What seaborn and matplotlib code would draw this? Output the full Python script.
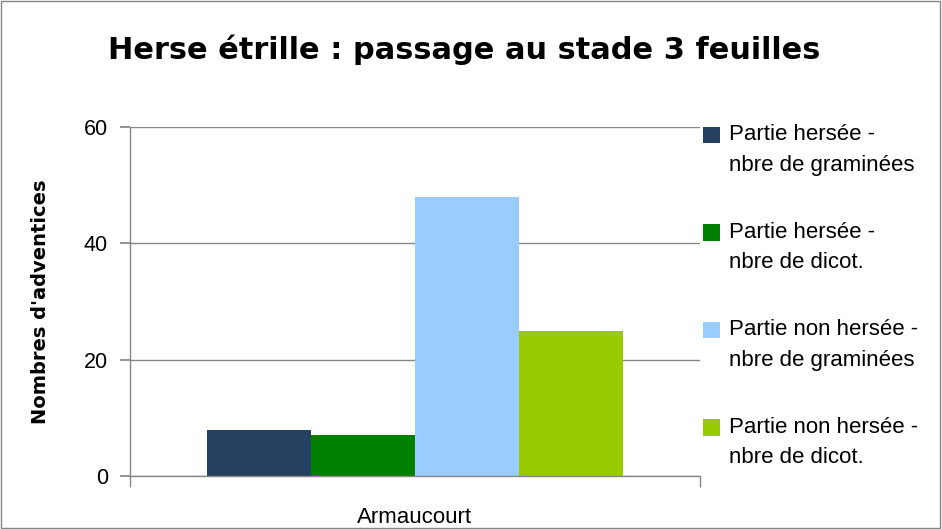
import matplotlib
matplotlib.use("Agg")

import matplotlib.pyplot as plt
import pandas as pd
import seaborn as sns
from matplotlib.patches import Rectangle
from matplotlib.legend_handler import HandlerPatch

sites = ["Armaucourt"]
series = [
    "Partie hersée -\nnbre de graminées",
    "Partie hersée -\nnbre de dicot.",
    "Partie non hersée -\nnbre de graminées",
    "Partie non hersée -\nnbre de dicot.",
]
values = [8, 7, 48, 25]
colors = ["#254061", "#008000", "#99CCFF", "#99CC00"]
y_ticks = [0, 20, 40, 60]

df = pd.DataFrame({
    "site": sites * len(series),
    "serie": series,
    "value": values,
})

sns.set_theme(style="white")
plt.rcParams["font.family"] = ["Liberation Sans", "DejaVu Sans"]
plt.rcParams["text.color"] = "black"
plt.rcParams["axes.labelcolor"] = "black"
plt.rcParams["xtick.color"] = "black"
plt.rcParams["ytick.color"] = "black"
grey = "#868686"

fig = plt.figure(figsize=(9.42, 5.29), dpi=100)
ax = fig.add_axes([0.138, 0.100, 0.605, 0.660])

sns.barplot(data=df, x="site", y="value", hue="serie", palette=colors,
            saturation=1, width=0.73, linewidth=0, ax=ax, legend=True)

ax.set_ylim(0, 60)
ax.set_xlim(-0.5, 0.5)
ax.set_yticks(y_ticks)
ax.yaxis.grid(True, color=grey, linewidth=1)
ax.set_axisbelow(True)
for s in ["top", "right"]:
    ax.spines[s].set_visible(False)
for s in ["left", "bottom"]:
    ax.spines[s].set_color(grey)
    ax.spines[s].set_linewidth(1)
ax.tick_params(axis="y", left=True, length=7, color=grey, labelsize=15.5,
               labelcolor="black", pad=9)
ax.tick_params(axis="x", bottom=False, length=0, labelsize=16,
               labelcolor="black", pad=22)
ax.set_xticks([-0.5, 0.5], minor=True)
ax.tick_params(axis="x", which="minor", bottom=True, length=8, color=grey)
ax.set_xlabel("")
ax.set_ylabel("Nombres d'adventices", fontsize=14, fontweight="bold",
              family=["DejaVu Sans"], labelpad=24)

fig.suptitle("Herse étrille : passage au stade 3 feuilles", x=0.493, y=0.935,
             fontsize=21.9, fontweight="bold", family=["DejaVu Sans"])


def top_square(legend, orig_handle, xdescent, ydescent, width, height, fontsize):
    # square aligned with the first line of the two-line label
    return Rectangle((-xdescent, -ydescent + 11), width, height)


handles, labels = ax.get_legend_handles_labels()
leg = ax.legend(handles, labels, loc="upper left", bbox_to_anchor=(0.99, 1.033),
                frameon=False, fontsize=16, handlelength=0.75, handleheight=0.75,
                handletextpad=0.4, labelspacing=2.08, borderaxespad=0,
                handler_map={Rectangle: HandlerPatch(patch_func=top_square)})
for t in leg.get_texts():
    t.set_linespacing(1.58)

fig.patches.append(Rectangle((0.001, 0.001), 0.997, 0.997, transform=fig.transFigure,
                             fill=False, edgecolor=grey, linewidth=1))

fig.savefig("out.png", dpi=100)
